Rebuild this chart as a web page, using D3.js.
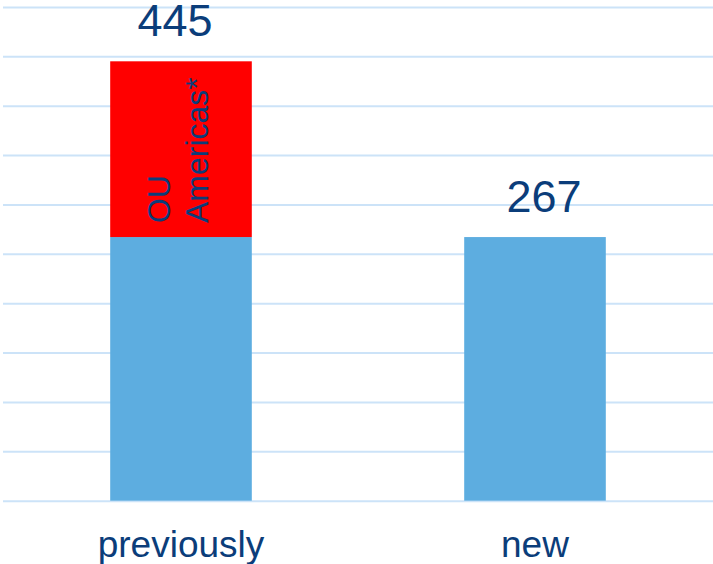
<!DOCTYPE html>
<html>
<head>
<meta charset="utf-8">
<script src="https://cdn.jsdelivr.net/npm/d3@7"></script>
<style>
  body { margin: 0; background: #fff; }
  text { font-family: "Liberation Sans", Arial, sans-serif; }
</style>
</head>
<body>
<svg id="chart" width="713" height="564"></svg>
<script>
// data
const categories = ["previously", "new"];
const baseValues = [267, 267];
const extraValues = [178, 0];      // OU Americas* part, stacked on top
const totalLabels = [445, 267];
const extraLabel = ["OU", "Americas*"];
const gridTicks = d3.range(0, 501, 50);

const textColor = "#0b3d7a";

let svg = d3.select("#chart");

let x = d3.scaleBand()
  .domain(categories)
  .range([4, 712])
  .paddingInner(0.6)
  .paddingOuter(0.3);

let y = d3.scaleLinear()
  .domain([0, 500])
  .range([500.7, 7]);

// gridlines
svg.append("g")
  .attr("transform", "translate(3,0)")
  .call(d3.axisLeft(y).tickValues(gridTicks).tickSize(-710).tickFormat(""))
  .call(g => g.select(".domain").remove())
  .call(g => g.selectAll("line").attr("stroke", "#cce3f8").attr("stroke-width", 2));

// base bars
svg.append("g").selectAll("rect")
  .data(categories)
  .enter()
  .append("rect")
  .attr("x", d => x(d))
  .attr("width", x.bandwidth())
  .attr("y", (d, i) => y(baseValues[i]))
  .attr("height", (d, i) => y(0) - y(baseValues[i]))
  .attr("fill", "#5dade0");

// stacked red segment
svg.append("g").selectAll("rect")
  .data(categories.filter((d, i) => extraValues[i] > 0))
  .enter()
  .append("rect")
  .attr("x", d => x(d))
  .attr("width", x.bandwidth())
  .attr("y", d => {
    let i = categories.indexOf(d);
    return y(baseValues[i] + extraValues[i]);
  })
  .attr("height", d => {
    let i = categories.indexOf(d);
    return y(baseValues[i]) - y(baseValues[i] + extraValues[i]);
  })
  .attr("fill", "#ff0000");

// rotated label inside red segment
let lx = x(categories[0]) + 60;
let ly = y(baseValues[0]) - 14;
let rot = svg.append("text")
  .attr("transform", "translate(" + lx + "," + ly + ") rotate(-90)")
  .attr("fill", textColor)
  .style("font-size", "32px");
extraLabel.forEach((t, i) => {
  rot.append("tspan")
    .attr("x", 0)
    .attr("y", i * 38)
    .text(t);
});

// total labels (the original sits them a little off-centre)
svg.append("g").selectAll("text")
  .data(categories)
  .enter()
  .append("text")
  .attr("x", d => x(d) + x.bandwidth() / 2)
  .attr("dx", (d, i) => i === 0 ? -6 : 9)
  .attr("y", (d, i) => y(totalLabels[i]) - 25)
  .attr("text-anchor", "middle")
  .attr("fill", textColor)
  .style("font-size", "45px")
  .text((d, i) => totalLabels[i]);

// category labels
svg.append("g").selectAll("text")
  .data(categories)
  .enter()
  .append("text")
  .attr("x", d => x(d) + x.bandwidth() / 2)
  .attr("y", 557)
  .attr("text-anchor", "middle")
  .attr("fill", textColor)
  .style("font-size", "37px")
  .text(d => d);
</script>
</body>
</html>
